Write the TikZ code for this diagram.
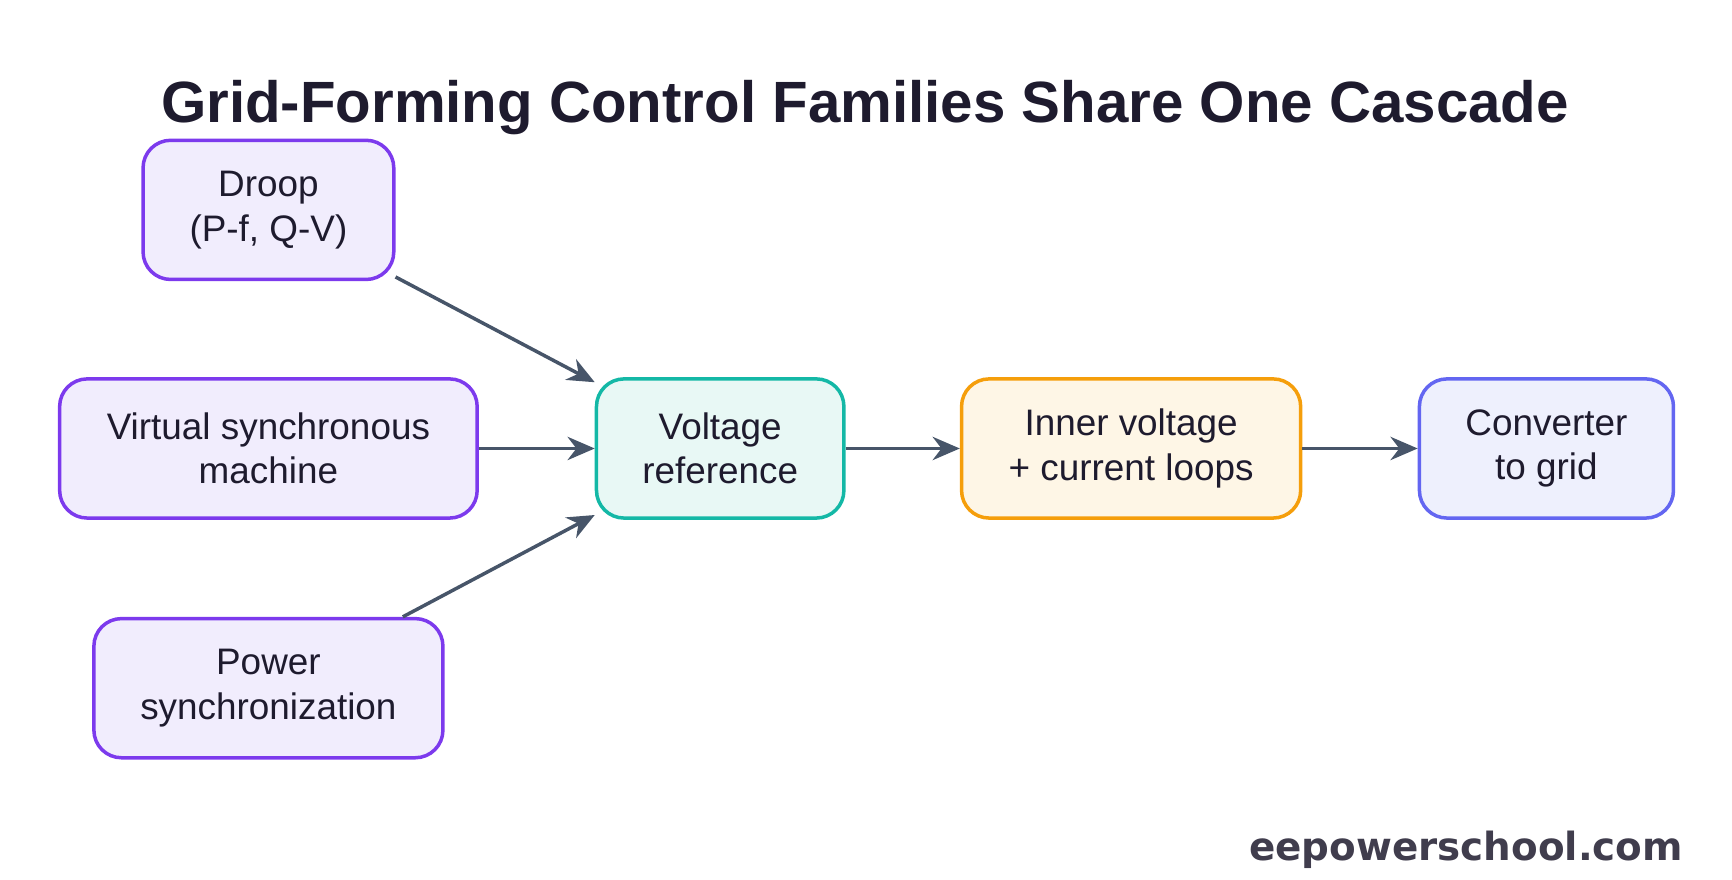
\documentclass[tikz,border=0pt]{standalone}
\usepackage{fontspec}
\setmainfont{Liberation Sans}
\newfontfamily\markfont{DejaVu Sans}
\usetikzlibrary{arrows.meta}
\definecolor{purpleline}{HTML}{7C3AED}
\definecolor{purplefill}{HTML}{F1EDFD}
\definecolor{tealline}{HTML}{14B8A6}
\definecolor{tealfill}{HTML}{E8F8F5}
\definecolor{orangeline}{HTML}{F59E0B}
\definecolor{orangefill}{HTML}{FEF6E6}
\definecolor{indigoline}{HTML}{6366F1}
\definecolor{indigofill}{HTML}{EEF0FD}
\definecolor{arrowgray}{HTML}{475569}
\definecolor{titleink}{HTML}{1E1B2E}
\tikzset{
  block/.style = {draw, line width = 0.9pt, rounded corners = 0.25cm, align = center,
    minimum height = 1.26cm, font = \fontsize{9.5}{11.5}\selectfont, text = titleink},
  family/.style = {block, draw = purpleline, fill = purplefill},
  link/.style = {draw = arrowgray, line width = 0.9pt, -{Stealth[length = 7pt, width = 6pt]}}
}
\begin{document}
\begin{tikzpicture}
\useasboundingbox (0,0) rectangle (15.68,-7.96);
\node[font = \bfseries\fontsize{15}{18}\selectfont, text = titleink] (title) at (7.83,-0.97) {Grid-Forming Control Families Share One Cascade};
\node[family, minimum width = 2.27cm] (droop) at (2.43,-1.90) {Droop\\(P-f, Q-V)};
\node[family, minimum width = 3.78cm] (vsm) at (2.43,-4.06) {Virtual synchronous\\machine};
\node[family, minimum width = 3.16cm] (psync) at (2.43,-6.23) {Power\\synchronization};
\node[block, draw = tealline, fill = tealfill, minimum width = 2.24cm] (vref) at (6.52,-4.06) {Voltage\\reference};
\node[block, draw = orangeline, fill = orangefill, minimum width = 3.07cm] (inner) at (10.24,-4.06) {Inner voltage\\+ current loops};
\node[block, draw = indigoline, fill = indigofill, minimum width = 2.30cm] (conv) at (14.00,-4.06) {Converter\\to grid};
\foreach \src in {droop, vsm, psync} \draw[link] (\src) -- (vref);
\draw[link] (vref) -- (inner);
\draw[link] (inner) -- (conv);
\node[font = \markfont\bfseries\fontsize{10}{12}\selectfont, text = titleink!85, anchor = east] (mark) at (15.36,-7.69) {eepowerschool.com};
\end{tikzpicture}
\end{document}
